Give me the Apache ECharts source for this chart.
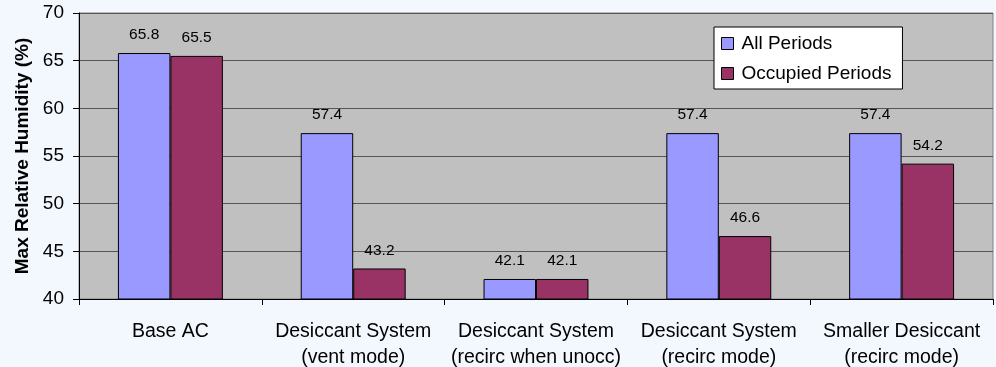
<!DOCTYPE html>
<html>
<head>
<meta charset="utf-8">
<script src="https://cdn.jsdelivr.net/npm/echarts@6/dist/echarts.min.js"></script>
<style>
  html, body { margin: 0; padding: 0; background: #f3f8ff; }
  #chart { width: 996px; height: 367px; }
</style>
</head>
<body>
<div id="chart"></div>
<script>
// Maximum relative humidity by system configuration
const categories = [
  'Base AC',
  'Desiccant System\n(vent mode)',
  'Desiccant System\n(recirc when unocc)',
  'Desiccant System\n(recirc mode)',
  'Smaller Desiccant\n(recirc mode)'
];
const allPeriods = [65.8, 57.4, 42.1, 57.4, 57.4];
const occupiedPeriods = [65.5, 43.2, 42.1, 46.6, 54.2];
const yTicks = { min: 40, max: 70, interval: 5 };

const font = 'Liberation Sans, Arial, sans-serif';

const chart = echarts.init(document.getElementById('chart'));

const labelStyle = {
  show: true,
  position: 'top',
  distance: 10,
  color: '#000',
  fontFamily: font,
  fontSize: 15.5,
  formatter: p => p.value.toFixed(1)
};

chart.setOption({
  backgroundColor: '#f3f8ff',
  animation: false,
  grid: {
    left: 79, right: 3, top: 13, bottom: 68,
    outerBoundsMode: 'none',
    containLabel: false,
    show: true,
    backgroundColor: '#c0c0c0',
    borderColor: '#808080',
    borderWidth: 1
  },
  legend: {
    orient: 'vertical',
    left: 714,
    top: 27,
    backgroundColor: '#ffffff',
    borderColor: '#000000',
    borderWidth: 1,
    padding: [7, 11, 6, 7],
    itemGap: 11,
    itemWidth: 12,
    itemHeight: 12,
    icon: 'rect',
    textStyle: { fontFamily: font, fontSize: 19, color: '#000', padding: [0, 0, 0, 3] },
    itemStyle: { borderColor: '#000', borderWidth: 1 },
    data: ['All Periods', 'Occupied Periods']
  },
  xAxis: {
    type: 'category',
    data: categories,
    axisLine: { lineStyle: { color: '#000', width: 1 } },
    axisTick: { show: true, length: 6, lineStyle: { color: '#000' } },
    axisLabel: {
      interval: 0,
      hideOverlap: false,
      fontFamily: font, fontSize: 19.5, color: '#000',
      margin: 20, lineHeight: 26
    }
  },
  yAxis: {
    type: 'value',
    min: yTicks.min,
    max: yTicks.max,
    interval: yTicks.interval,
    name: 'Max Relative Humidity (%)',
    nameLocation: 'middle',
    nameGap: 44,
    nameTextStyle: { fontFamily: font, fontSize: 19, fontWeight: 'bold', color: '#000' },
    axisLine: { show: true, lineStyle: { color: '#000', width: 1 } },
    axisTick: { show: true, length: 6, lineStyle: { color: '#000' } },
    axisLabel: { fontFamily: font, fontSize: 19, color: '#000', margin: 15 },
    splitLine: { show: true, lineStyle: { color: '#555555', width: 1 } }
  },
  series: [
    {
      name: 'All Periods',
      type: 'bar',
      data: allPeriods,
      barWidth: '28.7%',
      barGap: '0%',
      itemStyle: { color: '#9999ff', borderColor: '#000', borderWidth: 1 },
      label: labelStyle
    },
    {
      name: 'Occupied Periods',
      type: 'bar',
      data: occupiedPeriods,
      barWidth: '28.7%',
      itemStyle: { color: '#993366', borderColor: '#000', borderWidth: 1 },
      label: labelStyle
    }
  ]
});
</script>
</body>
</html>
